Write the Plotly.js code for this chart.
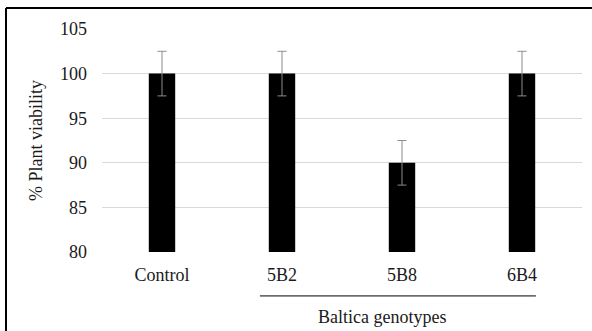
<!DOCTYPE html>
<html>
<head>
<meta charset="utf-8">
<script src="https://cdn.plot.ly/plotly-3.0.1.min.js"></script>
<style>html,body{margin:0;padding:0;background:#fff;}#chart{width:592px;height:331px;}</style>
</head>
<body>
<div id="chart"></div>
<script>
var categories = ["Control", "5B2", "5B8", "6B4"];
var viability = [100, 100, 90, 100];
var errors = [2.5, 2.5, 2.5, 2.5];
var yTicks = [80, 85, 90, 95, 100, 105];
var groupLabel = "Baltica genotypes";

var serif = "Times New Roman";
var txt = "#1a1a1a";
var fs = 18;

var trace = {
  type: "bar",
  x: categories,
  y: viability,
  width: 0.22,
  marker: {color: "#000000", line: {width: 0}},
  error_y: {type: "data", array: errors, visible: true, color: "#8c8c8c", thickness: 1, width: 4.5},
  hoverinfo: "none"
};

var layout = {
  width: 592, height: 331,
  margin: {l: 102, r: 10, t: 29, b: 79},
  paper_bgcolor: "#ffffff",
  plot_bgcolor: "#ffffff",
  showlegend: false,
  xaxis: {
    type: "category",
    showgrid: false, zeroline: false, showline: false,
    ticks: "", ticklabelstandoff: 10,
    tickfont: {family: serif, size: fs, color: txt},
    fixedrange: true
  },
  yaxis: {
    range: [80, 105], tickvals: yTicks,
    showgrid: true, gridcolor: "#d9d9d9", gridwidth: 1,
    zeroline: false, showline: false, ticks: "",
    ticklabelstandoff: 14,
    tickfont: {family: serif, size: fs, color: txt},
    title: {text: "% Plant viability", font: {family: serif, size: fs, color: txt}, standoff: 12},
    automargin: false,
    fixedrange: true
  },
  shapes: [
    {type: "line", xref: "paper", yref: "paper", x0: -0.2, x1: 1.05, y0: 1.094, y1: 1.094, line: {color: "#000", width: 2}},
    {type: "line", xref: "paper", yref: "paper", x0: -0.2, x1: -0.2, y0: 1.094, y1: -0.4, line: {color: "#000", width: 2}},
    {type: "line", xref: "paper", yref: "paper", x0: 0.329, x1: 0.904, y0: -0.197, y1: -0.197, line: {color: "#000", width: 1}}
  ],
  annotations: [
    {xref: "paper", yref: "paper", x: 0.583, y: -0.291, text: groupLabel, showarrow: false, font: {family: serif, size: fs, color: txt}, xanchor: "center", yanchor: "middle"}
  ]
};

Plotly.newPlot("chart", [trace], layout, {displayModeBar: false, staticPlot: true});
</script>
</body>
</html>
